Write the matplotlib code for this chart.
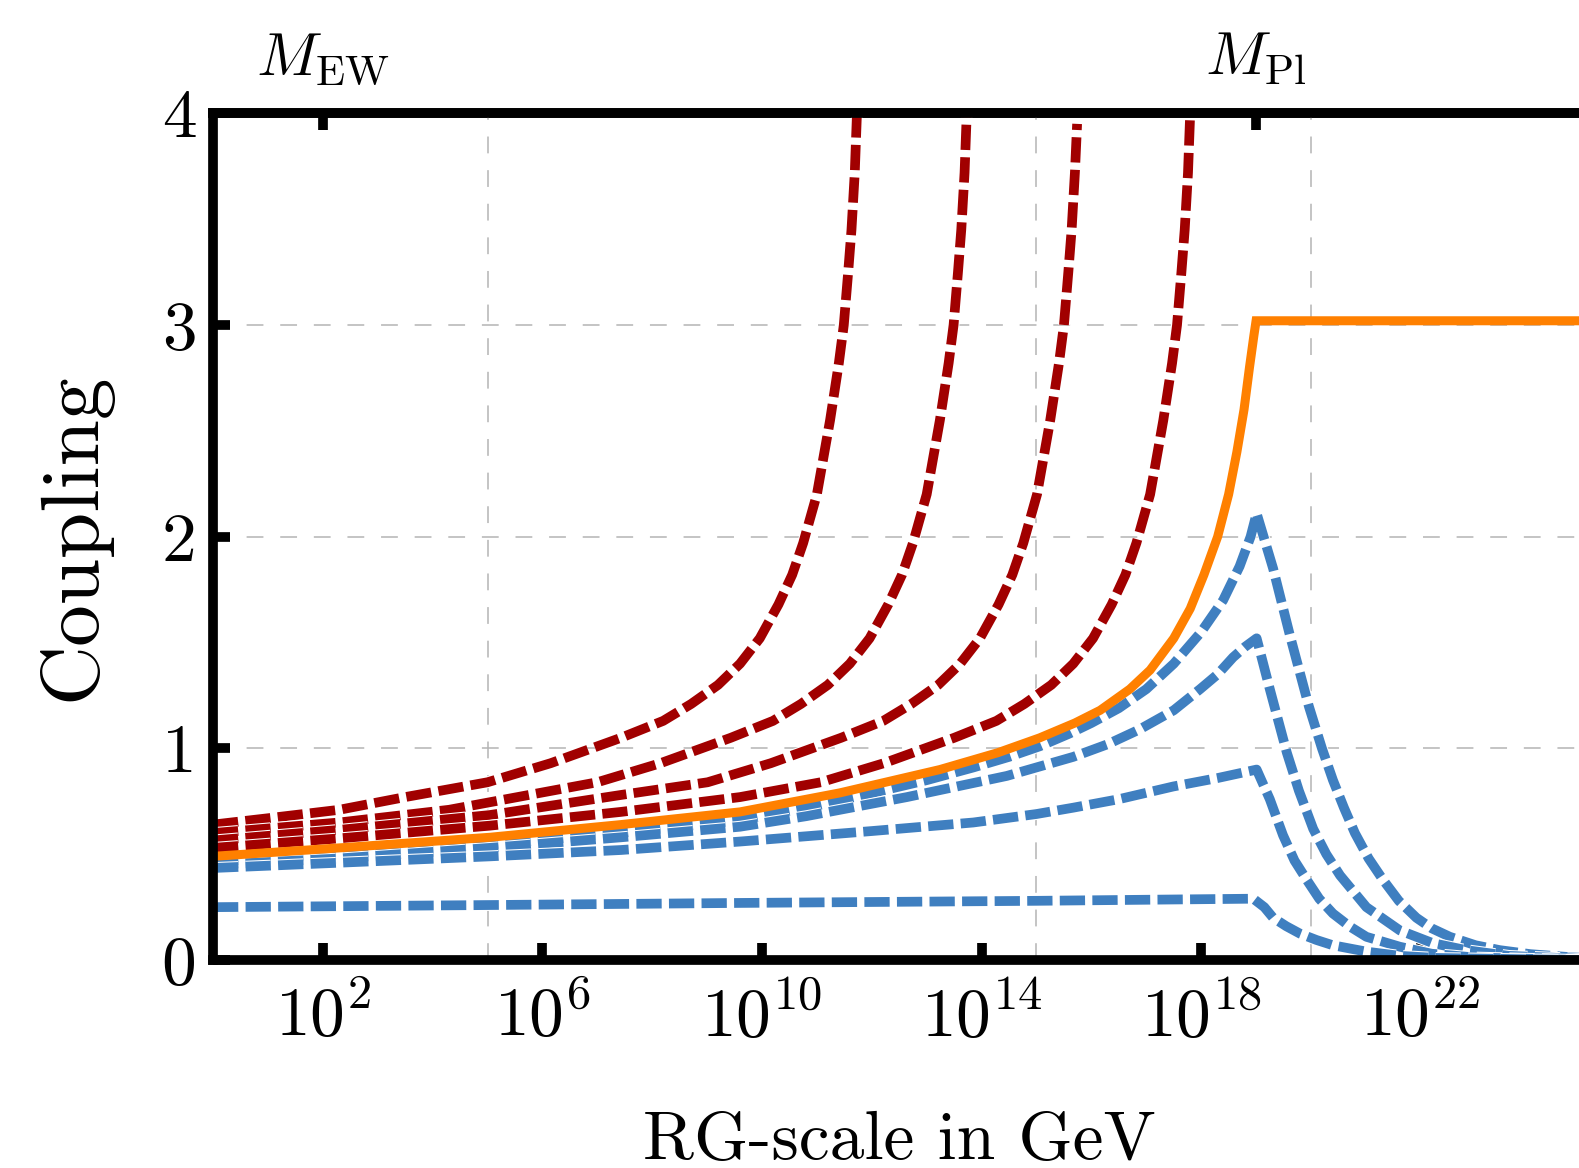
import numpy as np
import matplotlib.pyplot as plt
from matplotlib.ticker import NullLocator, NullFormatter
from matplotlib import patheffects as pe

plt.rcParams["font.family"] = "serif"
plt.rcParams["font.serif"] = ["cmr10"]
plt.rcParams["mathtext.fontset"] = "cm"
plt.rcParams["axes.formatter.use_mathtext"] = True
plt.rcParams["axes.unicode_minus"] = False

# log10(RG-scale / GeV) and coupling
red1_x = [0, 1.0, 2.3, 3.5, 5.0, 6.15, 7.43, 8.2, 8.71, 9.2, 9.6, 9.96, 10.3, 10.55, 10.75, 11.0,
          11.24, 11.4, 11.49, 11.57, 11.63, 11.69, 11.73]
red1_y = [0.64, 0.67, 0.71, 0.77, 0.84, 0.93, 1.05, 1.13, 1.21, 1.30, 1.40, 1.52, 1.68, 1.82, 1.97, 2.2,
          2.55, 2.82, 3.0, 3.25, 3.45, 3.72, 4.0]

red2_x = [0, 2.3, 4.3, 7.0, 8.15, 9.43, 10.2, 10.71, 11.2, 11.6, 11.96, 12.3, 12.55, 12.75, 13.0,
          13.24, 13.4, 13.49, 13.57, 13.63, 13.69, 13.73]
red2_y = [0.60, 0.65, 0.71, 0.84, 0.93, 1.05, 1.13, 1.21, 1.30, 1.40, 1.52, 1.68, 1.82, 1.97, 2.2,
          2.55, 2.82, 3.0, 3.25, 3.45, 3.72, 4.0]

red3_x = [0, 2.3, 5.04, 7.43, 9.01, 10.16, 11.44, 12.21, 12.72, 13.21, 13.61, 13.97, 14.31, 14.56,
          14.76, 15.01, 15.25, 15.41, 15.50, 15.58, 15.64, 15.70, 15.74]
red3_y = [0.565, 0.615, 0.685, 0.78, 0.84, 0.93, 1.05, 1.13, 1.21, 1.30, 1.40, 1.52, 1.68, 1.82,
          1.97, 2.2, 2.55, 2.82, 3.0, 3.25, 3.45, 3.72, 3.95]

red4_x = [0, 2.3, 5.04, 7.43, 9.6, 11.07, 12.22, 13.5, 14.27, 14.78, 15.27, 15.67, 16.03, 16.37,
          16.62, 16.82, 17.07, 17.31, 17.47, 17.56, 17.64, 17.70, 17.76, 17.8]
red4_y = [0.53, 0.575, 0.635, 0.70, 0.77, 0.84, 0.93, 1.05, 1.13, 1.21, 1.30, 1.40, 1.52, 1.68,
          1.82, 1.97, 2.2, 2.55, 2.82, 3.0, 3.25, 3.45, 3.72, 4.0]

orange_x = [0, 2.3, 5.04, 7.43, 9.6, 11.42, 13.24, 14.3, 15.06, 15.7, 16.16, 16.7, 17.07, 17.5, 17.8,
            18.05, 18.3, 18.5, 18.65, 18.78, 18.88, 18.96, 19.0, 25]
orange_y = [0.49, 0.53, 0.58, 0.64, 0.70, 0.79, 0.90, 0.98, 1.05, 1.12, 1.18, 1.28, 1.37, 1.52, 1.66,
            1.82, 2.0, 2.2, 2.4, 2.6, 2.8, 2.95, 3.02, 3.02]

blueA_x = [0, 2.3, 5.04, 7.43, 9.6, 11.0, 12.02, 13.0, 13.85, 14.5, 15.06, 15.6, 16.0, 16.5, 17.0,
           17.5, 18.0, 18.4, 18.7, 18.9, 19.01,
           19.31, 19.62, 19.96, 20.2, 20.4, 20.6, 20.8, 21.05, 21.31, 21.6, 21.92, 22.2, 22.53, 23.0,
           23.44, 24.0, 24.66, 25]
blueA_y = [0.465, 0.50, 0.545, 0.60, 0.66, 0.73, 0.79, 0.85, 0.91, 0.96, 1.01, 1.07, 1.12, 1.19, 1.28,
           1.40, 1.55, 1.70, 1.86, 2.0, 2.11,
           1.85, 1.53, 1.20, 1.0, 0.85, 0.72, 0.60, 0.48, 0.38, 0.28, 0.20, 0.15, 0.11, 0.07,
           0.047, 0.028, 0.015, 0.01]

blueB_x = [0, 2.3, 5.04, 7.43, 9.6, 10.81, 12.64, 14.46, 15.67, 16.3, 16.88, 17.5, 17.98, 18.3, 18.58,
           18.8, 19.01,
           19.25, 19.56, 19.78, 20.04, 20.28, 20.53, 21.01, 21.62, 22.22, 22.83, 23.6, 25]
blueB_y = [0.45, 0.48, 0.53, 0.58, 0.63, 0.68, 0.77, 0.87, 0.96, 1.02, 1.09, 1.18, 1.28, 1.35, 1.43,
           1.48, 1.52,
           1.28, 0.98, 0.80, 0.62, 0.50, 0.40, 0.25, 0.14, 0.08, 0.047, 0.02, 0.005]

blueC_x = [0, 2.3, 5.04, 7.43, 9.6, 12.02, 13.85, 15.0, 15.67, 16.5, 17.49, 18.3, 19.01,
           19.25, 19.49, 19.7, 19.92, 20.15, 20.4, 20.7, 21.01, 21.62, 22.2, 23.0, 25]
blueC_y = [0.435, 0.46, 0.49, 0.52, 0.56, 0.61, 0.65, 0.69, 0.72, 0.76, 0.82, 0.86, 0.90,
           0.76, 0.59, 0.47, 0.38, 0.29, 0.22, 0.16, 0.11, 0.063, 0.03, 0.012, 0.0]

blueD_x = [0, 5, 9.6, 15, 18.95, 19.15, 19.31, 19.55, 19.8, 20.1, 20.4, 21.01, 21.62, 22.3, 25]
blueD_y = [0.25, 0.26, 0.27, 0.28, 0.29, 0.25, 0.20, 0.16, 0.125, 0.095, 0.07, 0.04, 0.02, 0.01, 0.0]

red_curves = [(red1_x, red1_y), (red2_x, red2_y), (red3_x, red3_y), (red4_x, red4_y)]
blue_curves = [(blueA_x, blueA_y), (blueB_x, blueB_y), (blueC_x, blueC_y), (blueD_x, blueD_y)]

bottom_ticks = [1e2, 1e6, 1e10, 1e14, 1e18, 1e22]
grid_x = [1e5, 1e10, 1e15, 1e20]
top_ticks = [1e2, 1e19]
top_labels = [r"$M_{\mathrm{EW}}$", r"$M_{\mathrm{Pl}}$"]

RED = "#a10000"
BLUE = "#3f7fc0"
ORANGE = "#ff8000"

fig = plt.figure(figsize=(15.79, 11.68), dpi=100)
ax = fig.add_axes([0.1349, 0.178, 0.8692, 0.725])

outline = [pe.Stroke(linewidth=8.5, foreground="white"), pe.Normal()]
for xs, ys in red_curves:
    l, = ax.plot(10 ** np.array(xs), ys, color=RED, lw=7, dash_capstyle="butt")
    l.set_dashes((2.6, 0.75))
    l.set_path_effects(outline)
for xs, ys in blue_curves:
    l, = ax.plot(10 ** np.array(xs), ys, color=BLUE, lw=7, dash_capstyle="butt")
    l.set_dashes((2.6, 0.75))
    l.set_path_effects(outline)
ax.plot(10 ** np.array(orange_x), orange_y, color=ORANGE, lw=6.5, solid_joinstyle="miter")

ax.set_xscale("log")
ax.set_xlim(1, 1e25)
ax.set_ylim(0, 4)
ax.set_xticks(bottom_ticks)
ax.set_xticks(grid_x, minor=True)
ax.xaxis.set_minor_formatter(NullFormatter())
ax.set_yticks([0, 1, 2, 3, 4])
ax.set_yticklabels(["0", "1", "2", "3", "4"])

ax.set_axisbelow(True)
ax.grid(which="minor", axis="x", color="#b4b4b4", lw=1.1, linestyle=(0, (11, 11)))
ax.grid(which="major", axis="y", color="#b4b4b4", lw=1.1, linestyle=(0, (11, 11)))

ax.tick_params(axis="both", which="major", direction="in", length=12, width=7,
               labelsize=50, top=False, right=False)
ax.tick_params(axis="x", pad=17)
ax.tick_params(axis="y", pad=12)
ax.tick_params(axis="x", which="minor", length=0, bottom=False, top=False)

for side in ["left", "bottom", "top"]:
    ax.spines[side].set_linewidth(7)
ax.spines["right"].set_visible(False)

sec = ax.secondary_xaxis("top")
sec.set_xticks(top_ticks, labels=top_labels)
sec.xaxis.set_minor_locator(NullLocator())
sec.tick_params(direction="in", length=12, width=7, pad=19, labelsize=44)
sec.spines["top"].set_linewidth(7)

ax.set_xlabel("RG-scale in GeV", fontsize=50, labelpad=44)
ax.set_ylabel("Coupling", fontsize=60, labelpad=36)

fig.savefig("out.png", dpi=100)
